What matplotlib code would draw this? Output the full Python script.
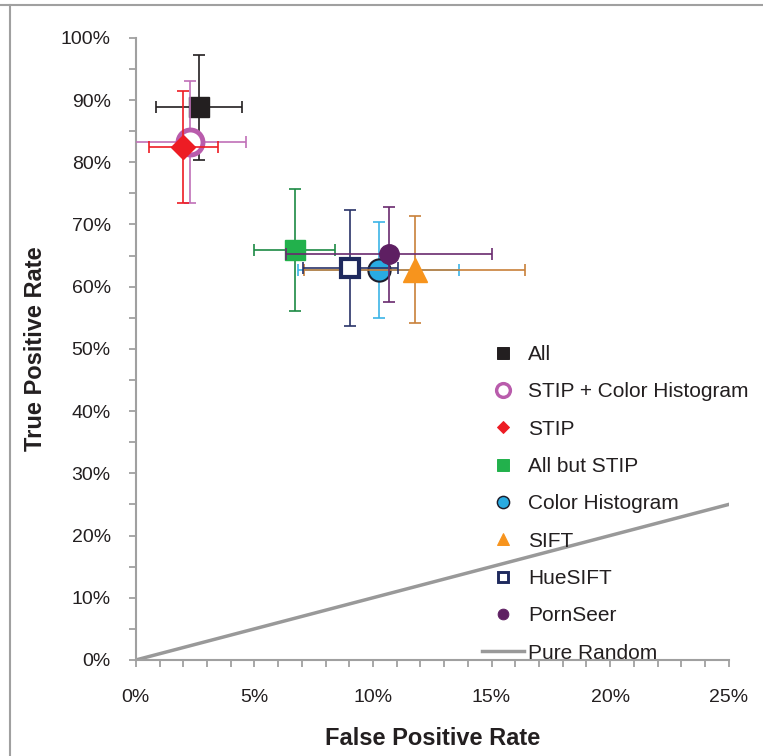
import matplotlib.pyplot as plt
from matplotlib.lines import Line2D
from matplotlib.ticker import MultipleLocator, PercentFormatter

plt.rcParams['font.family'] = ['Liberation Sans', 'DejaVu Sans']

# values in percent
names = ["All", "STIP + Color Histogram", "STIP", "All but STIP",
         "Color Histogram", "SIFT", "HueSIFT", "PornSeer"]
fpr = [2.67, 2.3, 2.0, 6.7, 10.24, 11.76, 9.04, 10.67]
tpr = [88.8, 83.3, 82.5, 65.9, 62.7, 62.7, 63.0, 65.2]
fpr_err = [1.8, 2.35, 1.45, 1.7, 3.4, 4.65, 2.0, 4.35]
tpr_err = [8.5, 9.8, 9.0, 9.8, 7.7, 8.6, 9.3, 7.6]

random_x = [0, 25]
random_y = [0, 25]

# marker, size, face, edge, edge width, errorbar colour
styles = {
    "All": ("s", 15, "#231f20", "#231f20", 1, "#231f20"),
    "STIP + Color Histogram": ("o", 18, "white", "#b95cac", 3.5, "#c070b8"),
    "STIP": ("D", 12, "#ed1c24", "#ed1c24", 1, "#ed1c24"),
    "All but STIP": ("s", 14.5, "#22b14c", "#22b14c", 1, "#1c8a44"),
    "Color Histogram": ("o", 16, "#29abe2", "#1d1d2b", 1.5, "#3cb4e6"),
    "SIFT": ("^", 17, "#f7941d", "#f7941d", 1, "#c8803a"),
    "HueSIFT": ("s", 13, "white", "#1f2a5e", 3, "#2a3468"),
    "PornSeer": ("o", 14, "#5e1f62", "#5e1f62", 1, "#6a2a6e"),
}

fig = plt.figure(figsize=(7.63, 7.56), dpi=100)
ax = fig.add_axes([0.178, 0.127, 0.777, 0.823])

ax.plot(random_x, random_y, color="#999999", lw=2.5, zorder=1)

handles = []
for i, n in enumerate(names):
    m, ms, fc, ec, mew, bc = styles[n]
    ax.errorbar(fpr[i], tpr[i], xerr=fpr_err[i], yerr=tpr_err[i],
                fmt="none", ecolor=bc, elinewidth=1.2, capsize=4,
                capthick=1.2, zorder=3 + 2 * i)
    ax.plot(fpr[i], tpr[i], ls="none", marker=m, ms=ms, mfc=fc, mec=ec,
            mew=mew, zorder=4 + 2 * i)
    handles.append(Line2D([], [], ls="none", marker=m, ms=ms * 0.55,
                          mfc=fc, mec=ec, mew=mew * 0.7))
handles.append(Line2D([], [], color="#999999", lw=2.5))

ax.set_xlim(0, 25)
ax.set_ylim(0, 100)
ax.xaxis.set_major_locator(MultipleLocator(5))
ax.xaxis.set_minor_locator(MultipleLocator(1))
ax.yaxis.set_major_locator(MultipleLocator(10))
ax.yaxis.set_minor_locator(MultipleLocator(5))
ax.xaxis.set_major_formatter(PercentFormatter(decimals=0))
ax.yaxis.set_major_formatter(PercentFormatter(decimals=0))

for s in ["top", "right"]:
    ax.spines[s].set_visible(False)
for s in ["left", "bottom"]:
    ax.spines[s].set_color("#a0a0a0")
    ax.spines[s].set_linewidth(1.5)
ax.tick_params(which="both", direction="out", color="#a0a0a0", width=1.3,
               length=5, labelsize=14, labelcolor="#231f20")
ax.tick_params(axis="x", which="major", pad=16)
ax.tick_params(axis="y", which="major", pad=13)

ax.set_xlabel("False Positive Rate", fontsize=17, fontweight="bold",
              labelpad=15, color="#231f20")
ax.set_ylabel("True Positive Rate", fontsize=17, fontweight="bold",
              labelpad=10, color="#231f20")

ax.legend(handles, names + ["Pure Random"], loc="upper left",
          bbox_to_anchor=(482 / 763, 1 - 345 / 756),
          bbox_transform=fig.transFigure, frameon=False, fontsize=15,
          labelspacing=0.88, handlelength=2.0, handletextpad=0.2,
          borderaxespad=0, borderpad=0, labelcolor="#231f20")

# frame lines of the original image
fig.add_artist(Line2D([0, 1], [1 - 5 / 756, 1 - 5 / 756], color="#a0a0a0",
                      lw=1.5, transform=fig.transFigure))
fig.add_artist(Line2D([10 / 763, 10 / 763], [0, 1 - 5 / 756], color="#a0a0a0",
                      lw=1.5, transform=fig.transFigure))

fig.savefig("out.png", dpi=100)
